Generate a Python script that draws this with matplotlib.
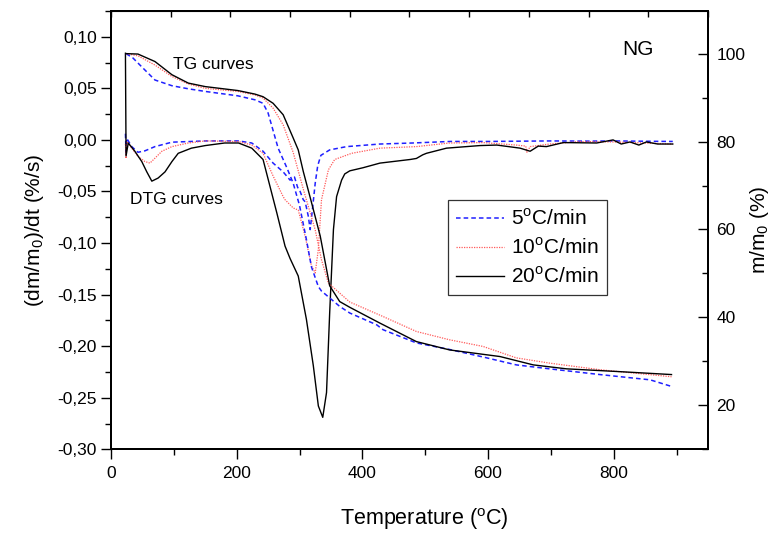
import numpy as np
import matplotlib
matplotlib.use('Agg')
import matplotlib.pyplot as plt
from matplotlib.ticker import MultipleLocator, FuncFormatter

plt.rcParams['font.family'] = ['Liberation Sans', 'DejaVu Sans']
plt.rcParams['mathtext.fontset'] = 'custom'
plt.rcParams['mathtext.rm'] = 'Liberation Sans'

# ---- data ----
# DTG curves (left axis, %/s)
t_dtg5 = [23, 24, 25, 33, 43, 54, 70, 97, 150, 203, 224, 242, 258, 274, 285, 292, 297,
          301, 306, 309, 314, 317, 321, 325, 329, 334, 348, 375, 428, 480, 540, 600,
          660, 700, 760, 800, 850, 894]
dtg5 = [0.006, -0.014, 0.0016, -0.0065, -0.012, -0.0106, -0.0065, -0.0022, -0.001, -0.001,
        -0.003, -0.011, -0.0225, -0.031, -0.039, -0.036, -0.046, -0.050, -0.058, -0.060,
        -0.074, -0.087, -0.065, -0.042, -0.025, -0.015, -0.0097, -0.0065, -0.004, -0.003,
        -0.0015, -0.0015, -0.0012, -0.001, -0.0012, -0.001, -0.0013, -0.0015]

t_dtg10 = [23, 24, 25, 33, 43, 54, 62, 70, 81, 97, 123, 150, 203, 224, 242, 258, 274, 277,
           290, 298, 309, 319, 325, 330, 335, 346, 356, 383, 401, 428, 486, 539, 592, 645,
           660, 662, 667, 698, 746, 799, 850, 894]
dtg10 = [-0.004, -0.018, -0.0016, -0.008, -0.016, -0.021, -0.0225, -0.0177, -0.011, -0.0065,
         -0.003, -0.001, -0.0016, -0.005, -0.013, -0.035, -0.055, -0.058, -0.066, -0.068,
         -0.0935, -0.122, -0.129, -0.106, -0.058, -0.029, -0.019, -0.013, -0.011, -0.008,
         -0.0065, -0.003, -0.0026, -0.005, -0.006, -0.012, -0.0065, -0.004, -0.0016, -0.002,
         -0.003, -0.004]

t_dtg20 = [23, 24, 27.5, 38, 49, 57, 65, 75, 86, 97, 107, 128, 150, 181, 203, 224, 242, 253,
           264, 277, 285, 298, 311, 322, 330, 337, 343, 348, 354, 359, 367, 372, 380, 401,
           428, 476, 486, 496, 502, 534, 587, 614, 651, 667, 680, 693, 720, 773, 799, 812,
           826, 840, 852, 870, 894]
dtg20 = [0.084, -0.0155, -0.003, -0.011, -0.021, -0.031, -0.040, -0.037, -0.031, -0.021,
         -0.013, -0.008, -0.0055, -0.003, -0.003, -0.008, -0.019, -0.045, -0.071, -0.103,
         -0.115, -0.132, -0.174, -0.219, -0.258, -0.269, -0.245, -0.168, -0.087, -0.055,
         -0.039, -0.033, -0.030, -0.027, -0.0225, -0.019, -0.018, -0.0145, -0.013, -0.008,
         -0.0055, -0.005, -0.008, -0.011, -0.006, -0.0065, -0.0026, -0.003, 0.0, -0.004,
         -0.002, -0.005, -0.002, -0.004, -0.004]

# TG curves (right axis, %)
t_tg5 = [24, 35, 51, 70, 97, 123, 150, 202, 229, 242, 250, 258, 266, 280, 290, 300, 311,
         319, 330, 335, 364, 380, 423, 433, 486, 539, 592, 645, 698, 778, 858, 892]
tg5 = [100, 99.0, 96.7, 94.0, 92.7, 92.0, 91.4, 90.4, 89.5, 88.7, 86.5, 82.5, 78.5, 74.0,
       70.5, 65.5, 57.7, 51.5, 47.0, 46.0, 42.5, 41.0, 38.3, 37.2, 34.2, 32.7, 31.0, 29.2,
       28.3, 27.0, 25.8, 24.3]

t_tg10 = [24, 43, 70, 97, 123, 150, 202, 229, 242, 258, 274, 290, 306, 325, 335, 346, 380,
          433, 486, 539, 592, 645, 698, 778, 892]
tg10 = [100, 99.5, 97.4, 94.8, 93.1, 92.1, 91.4, 90.6, 89.9, 87.6, 83.8, 77.5, 69.2, 59.9,
        53.1, 47.8, 43.5, 40.2, 36.8, 34.9, 33.4, 30.8, 29.6, 28.1, 26.5]

t_tg20 = [24, 43, 70, 97, 123, 150, 202, 229, 242, 258, 274, 290, 298, 306, 319, 333, 348,
          364, 380, 428, 486, 539, 619, 672, 725, 805, 892]
tg20 = [100, 99.9, 98.2, 95.2, 93.3, 92.5, 91.6, 90.8, 90.2, 88.7, 86.1, 80.8, 78.1, 73.2,
        66.2, 58.5, 47.2, 43.6, 42.3, 38.7, 34.5, 32.6, 31.1, 29.2, 28.3, 27.7, 27.0]

labels = [r'5$^{\rm o}$C/min', r'10$^{\rm o}$C/min', r'20$^{\rm o}$C/min']

blue = '#1f1fff'
red = '#ff5a5a'

fig = plt.figure(figsize=(7.75, 5.41), dpi=100)
ax = fig.add_axes([0.1432, 0.1695, 0.7703, 0.8102])
ax2 = ax.twinx()

# TG on right axis
ax2.plot(t_tg5, tg5, color=blue, lw=1.1, dashes=(3, 2))
ax2.plot(t_tg10, tg10, color=red, lw=0.9, ls=(0, (1, 1)))
ax2.plot(t_tg20, tg20, color='black', lw=1.0)

# DTG on left axis
l5, = ax.plot(t_dtg5, dtg5, color=blue, lw=1.1, dashes=(3, 2))
l10, = ax.plot(t_dtg10, dtg10, color=red, lw=0.9, ls=(0, (1, 1)))
l20, = ax.plot(t_dtg20, dtg20, color='black', lw=1.0)

ax.set_xlim(0, 950)
ax.set_ylim(-0.30, 0.125)
ax2.set_ylim(10, 109.7)

ax.xaxis.set_major_locator(MultipleLocator(200))
ax.xaxis.set_minor_locator(MultipleLocator(100))
ax.yaxis.set_major_locator(MultipleLocator(0.05))
ax.yaxis.set_minor_locator(MultipleLocator(0.025))
ax2.yaxis.set_major_locator(MultipleLocator(20))
ax2.yaxis.set_minor_locator(MultipleLocator(10))


def comma_fmt(v, pos):
    if abs(v) < 1e-9:
        v = 0.0
    return f'{v:.2f}'.replace('.', ',')


ax.yaxis.set_major_formatter(FuncFormatter(comma_fmt))

ax.tick_params(axis='both', which='major', direction='out', length=7, width=1,
               labelsize=12.5, pad=3)
ax.tick_params(axis='x', which='major', pad=5)
ax.tick_params(axis='both', which='minor', direction='out', length=4, width=1)
ax2.tick_params(axis='y', which='major', direction='in', length=7, width=1,
                labelsize=12.5, pad=6)
ax2.tick_params(axis='y', which='minor', direction='in', length=4, width=1)

# unlabelled top ticks
top = ax.secondary_xaxis('top', functions=(lambda x: x * 1000 / 950,
                                           lambda x: x * 950 / 1000))
top.xaxis.set_major_locator(MultipleLocator(100))
top.tick_params(direction='in', length=4, width=1, labeltop=False)

for a in (ax, ax2):
    for s in a.spines.values():
        s.set_linewidth(1.4)

ax.set_xlabel(r'Temperature ($^{\rm o}$C)', fontsize=15.5)
ax.xaxis.set_label_coords(0.525, -0.13)
ax.set_ylabel(r'(dm/m$_0$)/dt (%/s)', fontsize=15, labelpad=8)
ax2.set_ylabel(r'm/m$_0$ (%)', fontsize=15, labelpad=2)

ax.text(99, 0.0735, 'TG curves', fontsize=12.6, ha='left', va='center')
ax.text(30, -0.058, 'DTG curves', fontsize=12.5, ha='left', va='center')
ax.text(813, 0.0875, 'NG', fontsize=15, ha='left', va='center')

leg = ax.legend([l5, l10, l20], labels, loc='upper left',
                bbox_to_anchor=(0.564, 0.569), fontsize=15, frameon=True,
                fancybox=False, edgecolor='black', handlelength=2.3,
                handletextpad=0.35, borderpad=0.4, labelspacing=0.4,
                borderaxespad=0)
leg.get_frame().set_linewidth(0.9)

fig.savefig('out.png', dpi=100)
